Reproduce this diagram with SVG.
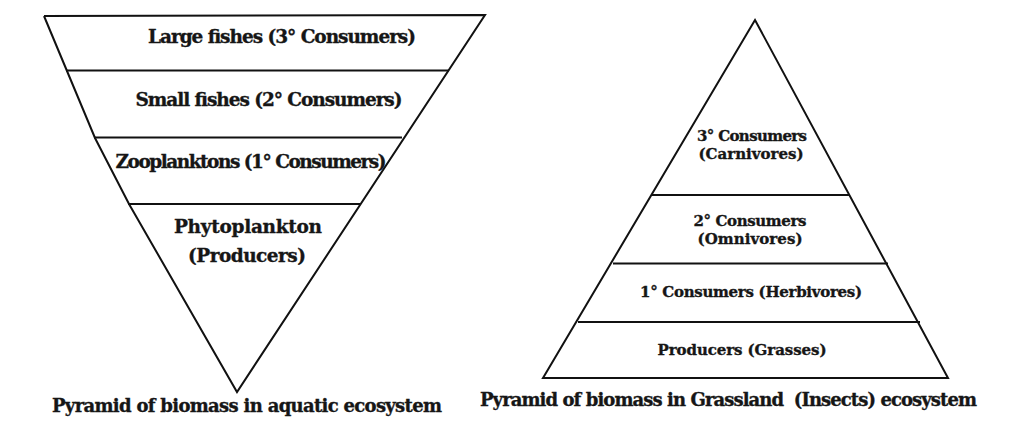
<svg xmlns="http://www.w3.org/2000/svg" width="1024" height="430" viewBox="0 0 1024 430">
<style>
.edge{fill:none;stroke:#111;stroke-width:2;stroke-linejoin:miter}
.div{stroke:#111;stroke-width:2}
text{font-family:"DejaVu Serif","Liberation Serif",serif;font-weight:bold;fill:#161616;stroke:#161616;stroke-width:0.35;text-anchor:middle}
.l{font-size:18.5px}
.r{font-size:15px}
.cap{font-size:18px}
</style>
<rect width="1024" height="430" fill="#fff"/>
<g id="aquatic-pyramid">
<polyline class="edge" points="44,16 485,15 237,392 129,204 95,138 67,71 44,16"/>
<g id="connectors-left">
<line class="div" x1="66" y1="70.5" x2="449" y2="70.5"/>
<line class="div" x1="94" y1="137.5" x2="402" y2="137.5"/>
<line class="div" x1="128" y1="204" x2="361" y2="204"/>
</g>
<g id="aq-large-fishes"><text class="l" x="282" y="43" textLength="268">Large fishes (3° Consumers)</text></g>
<g id="aq-small-fishes"><text class="l" x="269" y="106" textLength="267">Small fishes (2° Consumers)</text></g>
<g id="aq-zooplanktons"><text class="l" x="251" y="168" textLength="271">Zooplanktons (1° Consumers)</text></g>
<g id="aq-phytoplankton"><text class="l" x="248" y="233" textLength="148">Phytoplankton</text><text class="l" x="247" y="262" textLength="118">(Producers)</text></g>
<text id="aq-caption" class="cap" x="247" y="412" textLength="390">Pyramid of biomass in aquatic ecosystem</text>
</g>
<g id="grassland-pyramid">
<polygon class="edge" points="755,20 948,378 543,378"/>
<g id="connectors-right">
<line class="div" x1="651" y1="195" x2="850" y2="195"/>
<line class="div" x1="613" y1="263.5" x2="888" y2="263.5"/>
<line class="div" x1="578" y1="322" x2="920" y2="322"/>
</g>
<g id="gr-tertiary"><text class="r" x="752" y="141" textLength="110">3° Consumers</text><text class="r" x="751" y="159" textLength="105">(Carnivores)</text></g>
<g id="gr-secondary"><text class="r" x="750" y="226" textLength="113">2° Consumers</text><text class="r" x="750" y="244" textLength="105">(Omnivores)</text></g>
<g id="gr-primary"><text class="r" x="751" y="297" textLength="222">1° Consumers (Herbivores)</text></g>
<g id="gr-producers"><text class="r" x="742" y="355" textLength="169">Producers (Grasses)</text></g>
<text id="gr-caption" class="cap" x="728.5" y="406" textLength="497" xml:space="preserve">Pyramid of biomass in Grassland  (Insects) ecosystem</text>
</g>
</svg>
